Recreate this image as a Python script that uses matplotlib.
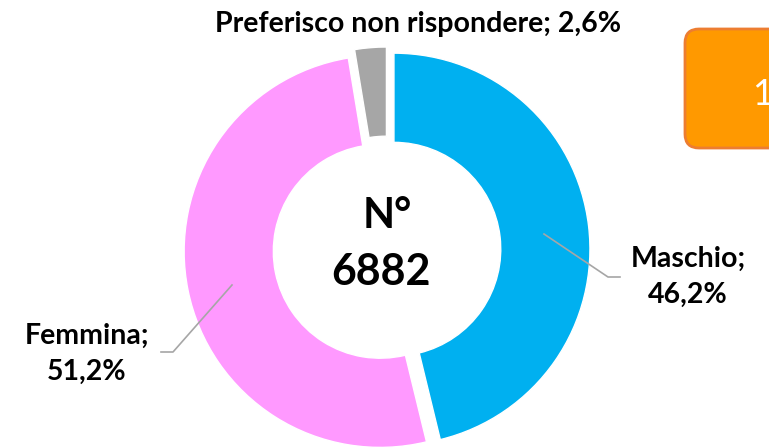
import matplotlib.pyplot as plt
from matplotlib.patches import FancyBboxPatch

categorie = ['Maschio', 'Femmina', 'Preferisco non rispondere']
percentuali = [46.2, 51.2, 2.6]
colori = ['#00B0F0', '#FF99FF', '#A6A6A6']
totale = 6882

plt.rcParams['font.family'] = ['Lato', 'DejaVu Sans']

fig = plt.figure(figsize=(7.69, 4.48), dpi=100)
ax = fig.add_axes([0, 0, 1, 1])
ax.axis('off')

cx, cy, r = 387, 198, 196
# explode in matplotlib non è scalato col raggio
ax.pie(percentuali, colors=colori, startangle=90, counterclock=False,
       explode=[7] * 3, center=(cx, cy), radius=r,
       wedgeprops=dict(width=r * 0.455, edgecolor='white', linewidth=1))
ax.set_xlim(0, 769)
ax.set_ylim(0, 448)
ax.set_aspect('auto')

# centro
ax.text(cx, 232, 'N°', ha='center', va='center', fontsize=30, fontweight='bold')
ax.text(cx - 6, 176, str(totale), ha='center', va='center', fontsize=31, fontweight='bold')

def fmt(v):
    return f'{v:.1f}%'.replace('.', ',')

# etichette
ax.text(688, 171, f'{categorie[0]};\n{fmt(percentuali[0])}', ha='center', va='center',
        fontsize=20.5, fontweight='bold', linespacing=1.45)
ax.plot([544, 608, 620], [214, 171, 171], color='#A6A6A6', lw=1.2)

ax.text(87, 94, f'{categorie[1]};\n{fmt(percentuali[1])}', ha='center', va='center',
        fontsize=20.5, fontweight='bold', linespacing=1.45)
ax.plot([232, 173, 161], [163, 96, 96], color='#A6A6A6', lw=1.2)

ax.text(418, 424, f'{categorie[2]}; {fmt(percentuali[2])}', ha='center', va='center',
        fontsize=20.5, fontweight='bold')

# riquadro arancione
box = FancyBboxPatch((685, 300), 120, 119, boxstyle='round,pad=0,rounding_size=14',
                     facecolor='#FF9900', edgecolor='#ED7D31', linewidth=2, clip_on=False)
ax.add_patch(box)
ax.text(752, 354, '1', ha='left', va='center', fontsize=26, color='white')

fig.savefig('out.png', dpi=100)
